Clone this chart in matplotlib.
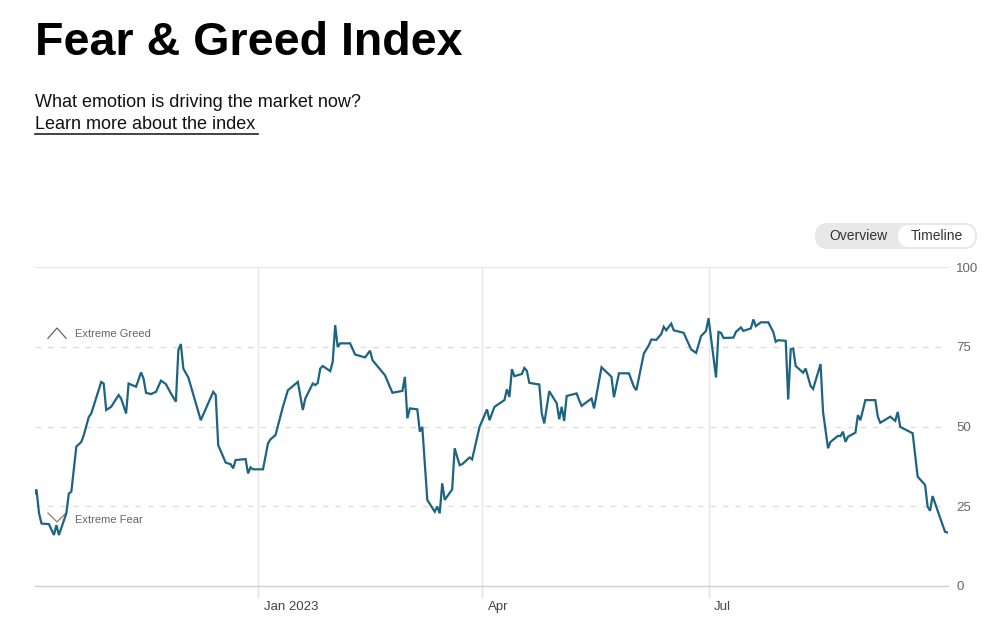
import pandas as pd
import matplotlib.pyplot as plt
import matplotlib.transforms as mtransforms
from matplotlib.lines import Line2D
from matplotlib.patches import FancyBboxPatch

plt.rcParams.update({
    'font.family': ['Liberation Sans', 'DejaVu Sans'],
    'font.size': 10,
})

# index readings, day offsets counted from 2023-01-01
days = [-90, -89, -88, -87, -84, -82, -81, -80, -77, -76, -75, -73, -71, -70, -68, -67,
        -63, -62, -61, -59, -56, -55, -53, -52, -49, -47, -46, -45, -43, -41, -39, -37,
        -35, -33, -32, -31, -30, -28, -23, -18, -17, -16, -13, -11, -10, -9, -5, -4,
        -3, -2, 2, 4, 5, 7, 10, 12, 16, 18, 19, 22, 23, 24, 25, 26, 29, 30,
        31, 32, 33, 37, 39, 43, 45, 46, 51, 54, 58, 59, 60, 61, 64, 65,
        66, 68, 71, 72, 73, 74, 75, 78, 79, 81, 82, 85, 86, 89, 92, 93,
        95, 99, 100, 101, 102, 103, 106, 107, 108, 109, 113, 114, 115, 117, 120, 121,
        122, 123, 124, 128, 129, 130, 134, 135, 138, 142, 143, 145, 149, 151, 152, 155,
        157, 158, 160, 162, 163, 164, 166, 167, 171, 174, 176, 178, 179, 180, 181, 184,
        185, 186, 187, 191, 192, 194, 195, 198, 199, 200, 202, 205, 207, 208, 209, 212,
        213, 214, 215, 216, 219, 220, 222, 223, 226, 227, 229, 230, 233, 234, 235, 236,
        237, 240, 241, 242, 244, 248, 249, 250, 254, 256, 257, 258, 261, 263, 265, 268,
        269, 270, 271, 276, 277]
fg_index = [28.5, 30.3, 22.9, 19.6, 19.4, 16.0, 19.1, 16.0, 22.8, 29.0, 29.6, 43.7, 45.2, 47.3, 53.0, 54.1,
            64.0, 63.5, 55.2, 56.2, 59.9, 58.8, 54.1, 63.5, 62.5, 67.0, 65.1, 60.6, 60.2, 60.9, 64.4, 63.3,
            60.4, 57.8, 74.0, 75.9, 68.2, 65.4, 52.0, 60.9, 59.9, 44.2, 38.7, 38.2, 36.9, 39.5, 39.8, 35.3,
            37.2, 36.6, 36.6, 44.7, 46.0, 47.3, 56.2, 61.4, 64.0, 55.2, 58.8, 63.5, 63.0, 63.7, 68.2, 69.0, 67.4, 70.3,
            81.8, 75.0, 76.1, 76.1, 72.6, 71.7, 73.8, 70.8, 66.1, 60.6, 61.2, 65.6, 52.6, 55.7, 55.4, 48.4,
            49.9, 27.0, 23.3, 24.9, 22.8, 32.2, 27.0, 30.3, 43.2, 37.9, 38.2, 40.3, 39.7, 49.9, 55.4, 52.0,
            56.2, 58.3, 61.7, 59.3, 68.0, 65.8, 66.5, 68.4, 67.5, 63.7, 63.2, 54.1, 51.0, 61.1, 57.3, 52.3,
            56.2, 51.8, 59.6, 60.4, 58.3, 56.5, 58.8, 55.7, 68.6, 65.6, 59.2, 66.7, 66.7, 62.5, 61.4, 72.9,
            75.5, 77.3, 77.2, 79.0, 81.3, 80.2, 82.3, 80.2, 79.4, 74.2, 73.1, 78.4, 79.2, 80.0, 84.0, 65.4,
            79.7, 79.4, 77.8, 77.9, 79.7, 81.1, 80.0, 80.8, 83.6, 81.5, 82.7, 82.7, 79.7, 76.6, 77.1, 76.9,
            58.5, 74.2, 74.5, 69.0, 66.9, 68.2, 62.7, 61.8, 69.6, 54.6, 43.2, 45.2, 47.1, 47.0, 48.4, 45.2,
            46.8, 48.1, 53.6, 52.0, 58.3, 58.3, 53.1, 51.2, 53.1, 51.8, 54.6, 49.9, 48.7, 47.9, 34.3, 31.7,
            24.9, 23.6, 28.2, 17.0, 16.8]

month_ticks = ['2023-01-01', '2023-04-01', '2023-07-01']
month_labels = ['Jan 2023', 'Apr', 'Jul']
y_ticks = [0, 25, 50, 75, 100]

base = pd.Timestamp('2023-01-01')
dates = base + pd.to_timedelta(days, unit='D')

fig = plt.figure(figsize=(10, 6.27), dpi=100)
fig.patch.set_facecolor('white')

# header
fig.text(0.035, 0.9123, 'Fear & Greed Index', fontsize=33.6, fontweight='bold',
         color='black', va='baseline', ha='left')
fig.text(0.035, 0.830, 'What emotion is driving the market now?', fontsize=13,
         color='#111111', va='baseline', ha='left')
fig.text(0.035, 0.794, 'Learn more about the index', fontsize=13,
         color='#111111', va='baseline', ha='left')
fig.add_artist(Line2D([0.035, 0.258], [0.787, 0.787], transform=fig.transFigure,
                      color='#222222', lw=1.2))

# Overview / Timeline toggle (pixel coords)
px = mtransforms.IdentityTransform()
fig.add_artist(FancyBboxPatch((815, 627 - 249), 162, 26,
                              boxstyle='round,pad=0,rounding_size=13',
                              transform=px, fc='#e8e8e8', ec='none'))
fig.add_artist(FancyBboxPatch((898, 627 - 247), 77, 22,
                              boxstyle='round,pad=0,rounding_size=11',
                              transform=px, fc='white', ec='none'))
fig.text(0.858, 1 - 236 / 627, 'Overview', fontsize=10, color='#333333', ha='center', va='center')
fig.text(0.937, 1 - 236 / 627, 'Timeline', fontsize=10, color='#333333', ha='center', va='center')

ax = fig.add_axes([0.035, 0.0654, 0.913, 0.5085])
ax.plot(dates, fg_index, color='#1c6482', lw=1.6, solid_joinstyle='miter', zorder=3)

ax.set_xlim(base + pd.Timedelta(days=-89.6), base + pd.Timedelta(days=277.2))
ax.set_ylim(0, 100)

for s in ['top', 'left', 'right']:
    ax.spines[s].set_visible(False)
ax.spines['bottom'].set_color('#cfcfcf')
ax.spines['bottom'].set_linewidth(1)

# horizontal reference lines
ax.axhline(100, color='#e6e6e6', lw=1, zorder=1)
for v in [25, 50, 75]:
    ax.axhline(v, color='#dedede', lw=1, ls=(0, (4, 5)), zorder=1)

# right-side y labels
ax.yaxis.tick_right()
ax.set_yticks(y_ticks)
ax.tick_params(axis='y', length=0, pad=6, labelsize=9.5, labelcolor='#666666')

# month ticks with vertical lines
tick_dates = pd.to_datetime(month_ticks)
ax.set_xticks(tick_dates)
ax.set_xticklabels(month_labels)
ax.tick_params(axis='x', direction='out', length=8.5, width=1, color='#e3e3e3',
               pad=2, labelsize=9.5, labelcolor='#444444')
for d in tick_dates:
    ax.axvline(d, color='#e6e6e6', lw=1, zorder=1)
shift = mtransforms.ScaledTranslation(4 / 72, 0, fig.dpi_scale_trans)
for lab in ax.get_xticklabels():
    lab.set_horizontalalignment('left')
    lab.set_transform(lab.get_transform() + shift)

# extreme zone labels
ax.plot([0.0142, 0.0241, 0.034], [0.777, 0.809, 0.777], transform=ax.transAxes,
        color='#666666', lw=0.9)
ax.text(0.0438, 0.79, 'Extreme Greed', transform=ax.transAxes, fontsize=8,
        color='#666666', va='center', ha='left')
ax.plot([0.0142, 0.0241, 0.034], [0.229, 0.201, 0.229], transform=ax.transAxes,
        color='#8a7a72', lw=0.9)
ax.text(0.0438, 0.207, 'Extreme Fear', transform=ax.transAxes, fontsize=8,
        color='#666666', va='center', ha='left')

fig.savefig('out.png', dpi=100, facecolor='white')
